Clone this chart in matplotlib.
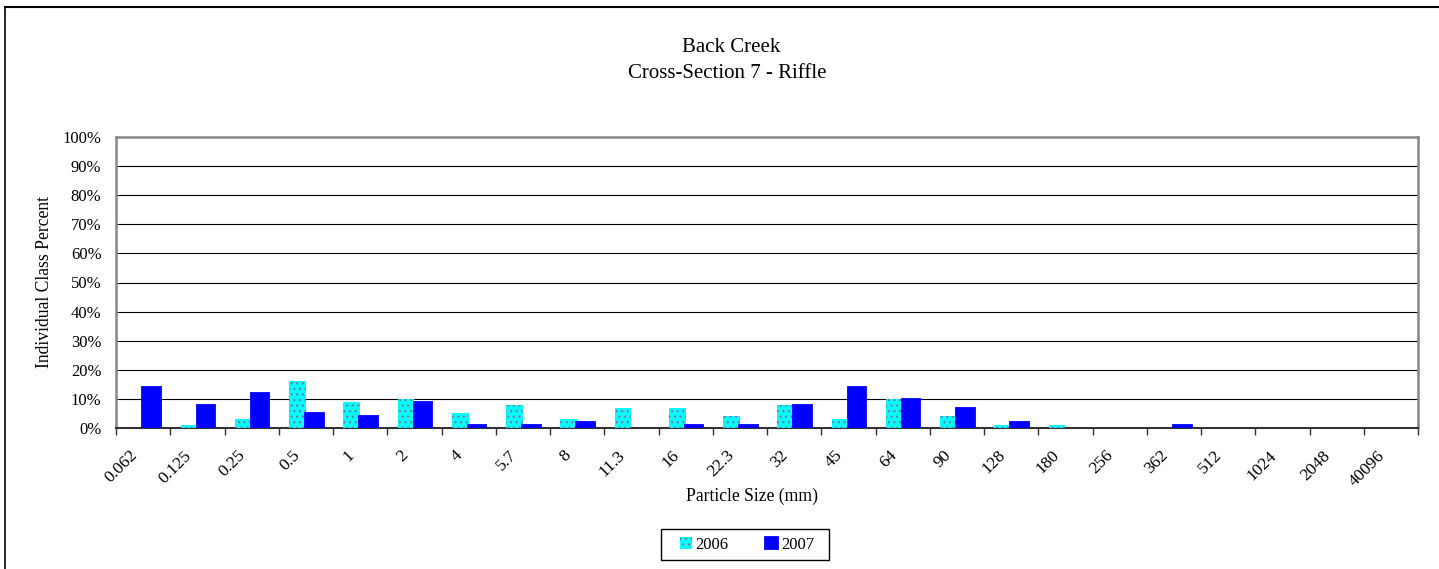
import matplotlib
matplotlib.use("Agg")
import matplotlib.pyplot as plt
import numpy as np
from matplotlib.ticker import PercentFormatter, FixedLocator
from matplotlib.lines import Line2D
from matplotlib.patches import Rectangle
import matplotlib.transforms as mtransforms

categories = ["0.062", "0.125", "0.25", "0.5", "1", "2", "4", "5.7", "8", "11.3",
              "16", "22.3", "32", "45", "64", "90", "128", "180", "256", "362",
              "512", "1024", "2048", "40096"]
pct_2006 = [0, 1, 3, 16, 9, 10, 5, 8, 3, 7, 7, 4, 8, 3, 10, 4, 1, 1, 0, 0, 0, 0, 0, 0]
pct_2007 = [14, 8, 12, 5, 4, 9, 1, 1, 2, 0, 1, 1, 8, 14, 10, 7, 2, 0, 0, 1, 0, 0, 0, 0]
series_names = ["2006", "2007"]
title_lines = ["Back Creek", "Cross-Section 7 - Riffle"]

plt.rcParams['font.family'] = ['Liberation Serif', 'DejaVu Serif']
plt.rcParams['hatch.linewidth'] = 0.9

W, H = 1439, 569
fig = plt.figure(figsize=(W / 100, H / 100), dpi=100)
ax = fig.add_axes([116 / W, 1 - 428 / H, (1418 - 116) / W, (428 - 137) / H])

x = np.arange(len(categories))
v06 = np.array(pct_2006) / 100.0
v07 = np.array(pct_2007) / 100.0
ax.bar(x - 0.155, v06, width=0.31, color='#00FFFF', edgecolor='#7080a0',
       linewidth=0, hatch='...', label=series_names[0], zorder=3)
bars07 = ax.bar(x + 0.156, v07, width=0.34, color='#0000FF', edgecolor='#0000FF',
                linewidth=1.3, label=series_names[1], zorder=4)
for p in bars07.patches:
    if p.get_height() <= 0:
        p.set_linewidth(0)

ax.set_xlim(-0.5, len(categories) - 0.5)
ax.set_ylim(0, 1.0)
ax.yaxis.set_major_locator(FixedLocator(np.arange(0, 1.01, 0.1)))
ax.yaxis.set_major_formatter(PercentFormatter(1.0, decimals=0))
ax.grid(axis='y', color='black', linewidth=0.8, zorder=0)
ax.set_axisbelow(True)

ax.set_xticks(x)
ax.set_xticklabels(categories, rotation=45, ha='right', rotation_mode='anchor')
ax.set_xticks(np.arange(-0.5, len(categories) + 0.5, 1), minor=True)
ax.tick_params(axis='x', which='major', length=0, pad=14, labelsize=12.5)
ax.tick_params(axis='x', which='minor', length=5, width=1, color='#333333')
ax.tick_params(axis='y', length=0, pad=10.5, labelsize=12)
shift = mtransforms.ScaledTranslation(-14 / 100, 0, fig.dpi_scale_trans)
for lab in ax.get_xticklabels():
    lab.set_transform(lab.get_transform() + shift)

for s in ['left', 'right', 'top']:
    ax.spines[s].set_color('#888888')
    ax.spines[s].set_linewidth(1.8)
ax.spines['bottom'].set_color('#333333')
ax.spines['bottom'].set_linewidth(1.5)

fig.text(731 / W, 1 - 47 / H, title_lines[0], ha='center', va='center', fontsize=15)
fig.text(727 / W, 1 - 74 / H, title_lines[1], ha='center', va='center', fontsize=15)
fig.text(752 / W, 1 - 496 / H, "Particle Size (mm)", ha='center', va='center', fontsize=12.7)
fig.text(45 / W, 1 - 282 / H, "Individual Class Percent", ha='center', va='center',
         rotation=90, fontsize=12.7)

leg = fig.legend(loc='center', bbox_to_anchor=(747 / W, 1 - 545 / H), ncol=2,
                 frameon=False, fontsize=12,
                 handlelength=0.75, handleheight=0.75, handletextpad=0.2,
                 columnspacing=2.2, borderpad=0.3)
fig.add_artist(Rectangle((661 / W, 1 - 560 / H), (829 - 661) / W, (560 - 529) / H,
                         transform=fig.transFigure, fill=False, edgecolor='black',
                         linewidth=1.0))

fig.add_artist(Line2D([5 / W, 5 / W], [0, 1 - 7 / H], color='black', linewidth=1.2,
                      transform=fig.transFigure))
fig.add_artist(Line2D([5 / W, 1], [1 - 7 / H, 1 - 7 / H], color='black', linewidth=1.5,
                      transform=fig.transFigure))

fig.savefig("out.png", dpi=100)
